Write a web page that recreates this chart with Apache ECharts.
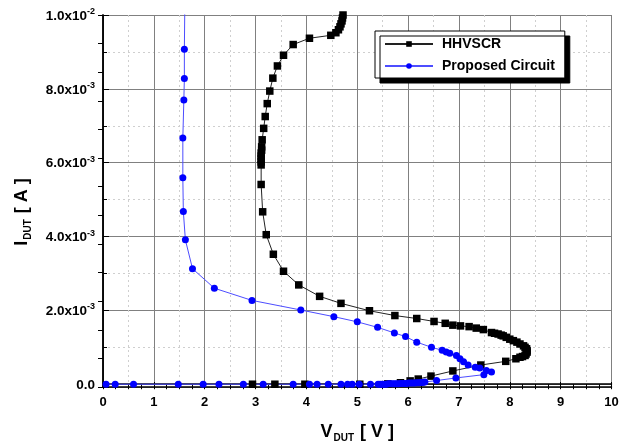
<!DOCTYPE html>
<html>
<head>
<meta charset="utf-8">
<script src="https://cdn.jsdelivr.net/npm/echarts@6/dist/echarts.min.js"></script>
<style>
  html, body { margin: 0; padding: 0; background: #fff; }
  #chart { width: 631px; height: 448px; }
</style>
</head>
<body>
<div id="chart"></div>
<script>
// V in volts, I in mA (converted to A below)
var hhvscrV = [2.94, 3.38, 3.97, 5.05, 5.60, 5.85, 6.04, 6.20, 6.45, 6.88, 7.43, 7.92, 8.12,
  8.20, 8.25, 8.30, 8.32, 8.34, 8.34, 8.33, 8.30, 8.27, 8.20, 8.14, 8.07, 8.00, 7.93, 7.87, 7.83, 7.77, 7.70, 7.64,
  7.48, 7.34, 7.20, 7.03, 6.88, 6.73, 6.51, 6.17, 5.74, 5.24, 4.68, 4.26, 3.85, 3.55, 3.35, 3.21, 3.14, 3.11,
  3.11, 3.11, 3.11, 3.11, 3.11, 3.12, 3.12, 3.13, 3.16, 3.19, 3.23, 3.28, 3.34, 3.43, 3.55, 3.74, 4.06,
  4.48, 4.58, 4.63, 4.66, 4.68, 4.70, 4.71, 4.72]
var hhvscrI = [0, 0, 0, 0, 0.01, 0.04, 0.09, 0.14, 0.22, 0.36, 0.52, 0.62, 0.69,
  0.73, 0.75, 0.78, 0.82, 0.87, 0.91, 0.96, 1.00, 1.04, 1.09, 1.14, 1.18, 1.22, 1.27, 1.31, 1.33, 1.36, 1.38, 1.40,
  1.48, 1.52, 1.56, 1.58, 1.60, 1.65, 1.70, 1.78, 1.86, 1.99, 2.19, 2.38, 2.69, 3.06, 3.52, 4.05, 4.67, 5.41,
  5.94, 6.02, 6.10, 6.18, 6.26, 6.34, 6.43, 6.62, 6.93, 7.25, 7.60, 7.94, 8.29, 8.62, 8.91, 9.20, 9.37,
  9.45, 9.52, 9.60, 9.68, 9.76, 9.84, 9.92, 10.0]

var proposedV = [0.06, 0.24, 0.60, 1.48, 1.97, 2.28, 2.76, 3.15, 3.74, 4.06, 4.21, 4.43, 4.68, 4.81, 4.90, 5.04, 5.26,
  5.41, 5.45, 5.49, 5.53, 5.57, 5.61, 5.65, 5.69, 5.73, 5.77, 5.81, 5.85, 5.89, 5.93, 5.97, 6.01, 6.05, 6.09, 6.13,
  6.17, 6.21, 6.25, 6.29, 6.33,
  6.56, 6.94, 7.49, 7.64, 7.54, 7.41, 7.32, 7.18, 7.09, 7.02, 6.95, 6.82, 6.75, 6.67, 6.46, 6.17, 5.95, 5.73,
  5.40, 5.00, 4.54, 3.89, 2.93, 2.19, 1.76, 1.62, 1.58, 1.57, 1.57, 1.59, 1.60, 1.60, 1.61]
var proposedI = [0, 0, 0, 0, 0, 0, 0, 0, 0, 0, 0, 0, 0, 0, 0, 0, 0,
  0, 0, 0, 0, 0, 0.01, 0.01, 0.01, 0.01, 0.01, 0.01, 0.02, 0.02, 0.02, 0.02, 0.03, 0.03, 0.03, 0.03,
  0.04, 0.04, 0.05, 0.05, 0.06,
  0.10, 0.17, 0.26, 0.33, 0.37, 0.44, 0.46, 0.52, 0.61, 0.69, 0.78, 0.84, 0.87, 0.92, 1.00, 1.14, 1.29, 1.39,
  1.54, 1.69, 1.83, 2.01, 2.27, 2.60, 3.13, 3.91, 4.68, 5.59, 6.67, 7.70, 8.28, 9.07, 10.4]

var xTicks = [0, 1, 2, 3, 4, 5, 6, 7, 8, 9, 10]
var yMin = -0.000075
var yMax = 0.01

function pairs(vs, is) {
  return vs.map(function (v, k) { return [v, is[k] * 1e-3] })
}

function fmtY(v) {
  if (v < -1e-9) return ''
  if (Math.abs(v) < 1e-9) return '{n|0.0}'
  var e = Math.floor(Math.log10(v) + 1e-9)
  var m = v / Math.pow(10, e)
  return '{n|' + m.toFixed(1) + 'x10}{s|' + e + '}'
}

var font = 'Arial, "Liberation Sans", sans-serif'
var nameRich = {
  b: { fontSize: 18, fontWeight: 'bold', color: '#000', fontFamily: font, verticalAlign: 'top', lineHeight: 20 },
  sub: { fontSize: 10, fontWeight: 'bold', color: '#000', fontFamily: font, verticalAlign: 'bottom', lineHeight: 10, padding: [0, 1, 0, 1] }
}
var chart = echarts.init(document.getElementById('chart'))

chart.setOption({
  animation: false,
  textStyle: { fontFamily: font },
  grid: { left: 103, right: 19.5, top: 15, bottom: 59.7 },
  legend: {
    orient: 'vertical',
    left: 375,
    top: 31,
    padding: [6, 10, 5, 9],
    itemGap: 8,
    itemWidth: 48,
    itemHeight: 7,
    backgroundColor: '#fff',
    borderColor: '#000',
    borderWidth: 1,
    shadowColor: '#000',
    shadowBlur: 0,
    shadowOffsetX: 5,
    shadowOffsetY: 5,
    textStyle: { fontSize: 14, fontWeight: 'bold', color: '#000', padding: [0, 0, 0, 4] },
    data: ['HHVSCR', 'Proposed Circuit']
  },
  xAxis: [{
    type: 'value',
    min: xTicks[0],
    max: xTicks[xTicks.length - 1],
    interval: 1,
    name: '{b|V}{sub|DUT}{b| [ V ]}',
    nameLocation: 'middle',
    nameGap: 36,
    nameTextStyle: { rich: nameRich },
    axisLine: { onZero: false, lineStyle: { color: '#000', width: 1.5 } },
    axisTick: { inside: true, length: 5, lineStyle: { color: '#000' } },
    minorTick: { show: true, splitNumber: 2, length: 3, lineStyle: { color: '#000' } },
    axisLabel: { fontSize: 13, fontWeight: 'bold', color: '#000', margin: 9 },
    splitLine: { show: true, lineStyle: { color: '#808080', width: 1 } },
    minorSplitLine: { show: true, lineStyle: { color: '#cfcfcf', type: [2, 3] } }
  }, {
    type: 'value',
    position: 'top',
    min: 0,
    max: 10,
    interval: 0.25,
    axisLine: { show: true, lineStyle: { color: '#000', width: 1.5 } },
    axisTick: { show: true, inside: true, length: 5, lineStyle: { color: '#000' } },
    axisLabel: { show: false },
    splitLine: { show: false }
  }],
  yAxis: [{
    type: 'value',
    min: yMin,
    max: yMax,
    splitNumber: 5,
    name: '{b|I}{sub|DUT}{b| [ A ]}',
    nameLocation: 'middle',
    nameRotate: 90,
    nameGap: 70,
    nameTextStyle: { padding: [0, 22, 0, 0], rich: nameRich },
    axisLine: { onZero: false, lineStyle: { color: '#000', width: 1.5 } },
    axisTick: { inside: true, length: 6, lineStyle: { color: '#000' } },
    minorTick: { show: true, splitNumber: 2, length: 4, lineStyle: { color: '#000' } },
    axisLabel: {
      margin: 8,
      formatter: fmtY,
      rich: {
        n: { fontSize: 13.5, fontWeight: 'bold', color: '#000', fontFamily: font, verticalAlign: 'bottom', lineHeight: 16 },
        s: { fontSize: 9, fontWeight: 'bold', color: '#000', fontFamily: font, verticalAlign: 'top', lineHeight: 9 }
      }
    },
    splitLine: { show: true, lineStyle: { color: '#808080', width: 1 } },
    minorSplitLine: { show: true, lineStyle: { color: '#cfcfcf', type: [2, 3] } }
  }, {
    type: 'value',
    position: 'right',
    min: 0,
    max: 13,
    interval: 1,
    axisLine: { show: true, lineStyle: { color: '#000', width: 1.5 } },
    axisTick: { show: true, inside: true, length: 5, lineStyle: { color: '#000' } },
    axisLabel: { show: false },
    splitLine: { show: false }
  }],
  series: [{
    name: 'HHVSCR',
    type: 'line',
    symbol: 'rect',
    symbolSize: 7.5,
    color: '#000',
    itemStyle: { color: '#000' },
    lineStyle: { color: '#222', width: 1 },
    data: pairs(hhvscrV, hhvscrI)
  }, {
    name: 'Proposed Circuit',
    type: 'line',
    symbol: 'circle',
    symbolSize: 7,
    color: '#0000ff',
    itemStyle: { color: '#0000ff' },
    lineStyle: { color: '#4d4dff', width: 1 },
    data: pairs(proposedV, proposedI)
  }]
})
</script>
</body>
</html>
